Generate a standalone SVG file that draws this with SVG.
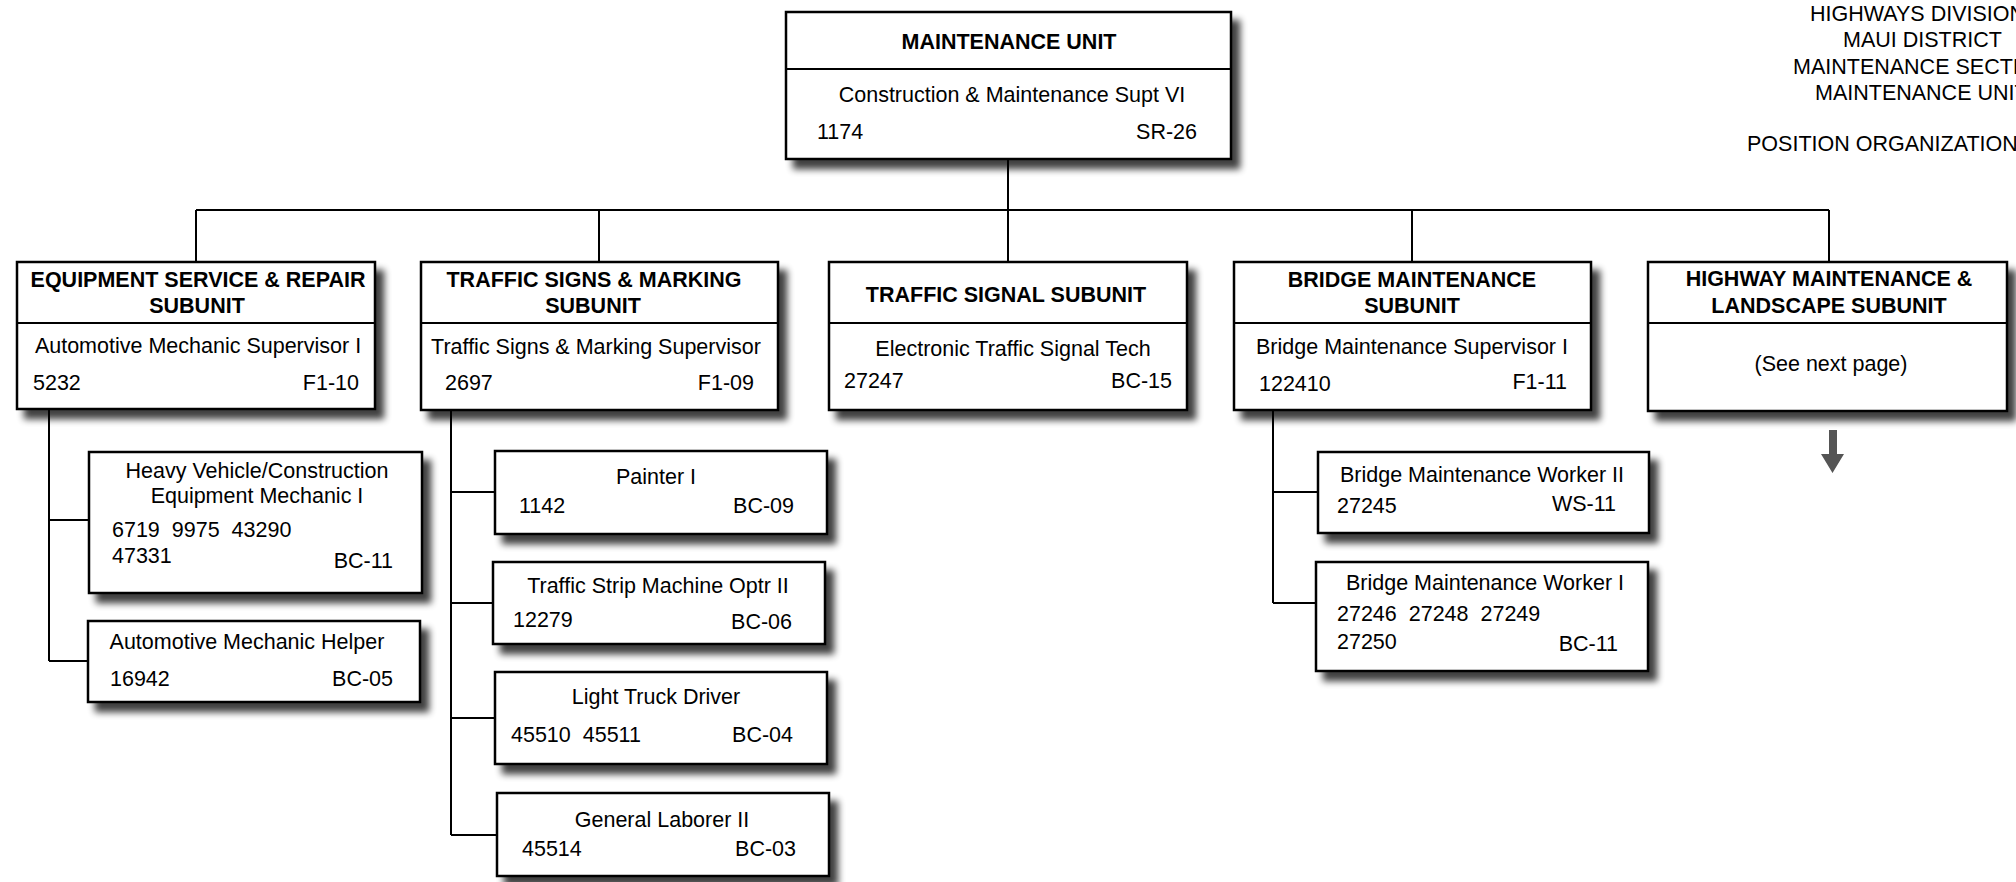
<svg xmlns="http://www.w3.org/2000/svg" width="2016" height="882" viewBox="0 0 2016 882">
<defs>
<filter id="sh" x="-10%" y="-20%" width="130%" height="150%">
<feGaussianBlur in="SourceAlpha" stdDeviation="3.5"/>
<feOffset dx="8" dy="9" result="b"/>
<feComponentTransfer><feFuncA type="linear" slope="0.75"/></feComponentTransfer>
<feMerge><feMergeNode/><feMergeNode in="SourceGraphic"/></feMerge>
</filter>
</defs>
<style>
text{font-family:"Liberation Sans",Arial,sans-serif;font-size:21.5px;fill:#000}
.b{font-weight:bold}
.m{text-anchor:middle}
.e{text-anchor:end}
.box{fill:#fff;stroke:#000;stroke-width:2.5;filter:url(#sh)}
.div{stroke:#000;stroke-width:2}
.con{fill:none;stroke:#000;stroke-width:2}
</style>
<rect width="2016" height="882" fill="#fff"/>

<g id="header">
<text x="1810" y="21">HIGHWAYS DIVISION</text>
<text x="1843" y="47">MAUI DISTRICT</text>
<text x="1793" y="74">MAINTENANCE SECTI</text>
<text x="1815" y="100">MAINTENANCE UNIT</text>
<text x="1747" y="151">POSITION ORGANIZATION</text>
</g>

<g id="connectors" class="con">
<path d="M1008 159V210M196 210H1829M196 210V262M599 210V262M1008 210V262M1412 210V262M1829 210V262"/>
<path d="M49 409V661M49 520H89M49 661H88"/>
<path d="M451 410V835M451 492H495M451 603H493M451 718H495M451 835H497"/>
<path d="M1273 410V603M1273 492H1318M1273 603H1316"/>
</g>

<g id="maintenance-unit">
<rect class="box" x="786" y="12" width="445" height="147"/>
<line class="div" x1="786" y1="69" x2="1231" y2="69"/>
<text class="b m" x="1009" y="49">MAINTENANCE UNIT</text>
<text class="m" x="1012" y="102">Construction &amp; Maintenance Supt VI</text>
<text x="817" y="139">1174</text>
<text class="e" x="1197" y="139">SR-26</text>
</g>

<g id="equipment-subunit">
<rect class="box" x="17" y="262" width="358" height="147"/>
<line class="div" x1="17" y1="323" x2="375" y2="323"/>
<text class="b m" x="198" y="287">EQUIPMENT SERVICE &amp; REPAIR</text>
<text class="b m" x="197" y="313">SUBUNIT</text>
<text class="m" x="198" y="353">Automotive Mechanic Supervisor I</text>
<text x="33" y="390">5232</text>
<text class="e" x="359" y="390">F1-10</text>
</g>

<g id="traffic-signs-subunit">
<rect class="box" x="421" y="262" width="357" height="148"/>
<line class="div" x1="421" y1="323" x2="778" y2="323"/>
<text class="b m" x="594" y="287">TRAFFIC SIGNS &amp; MARKING</text>
<text class="b m" x="593" y="313">SUBUNIT</text>
<text class="m" x="596" y="354">Traffic Signs &amp; Marking Supervisor</text>
<text x="445" y="390">2697</text>
<text class="e" x="754" y="390">F1-09</text>
</g>

<g id="traffic-signal-subunit">
<rect class="box" x="829" y="262" width="358" height="148"/>
<line class="div" x1="829" y1="323" x2="1187" y2="323"/>
<text class="b m" x="1006" y="302">TRAFFIC SIGNAL SUBUNIT</text>
<text class="m" x="1013" y="356">Electronic Traffic Signal Tech</text>
<text x="844" y="388">27247</text>
<text class="e" x="1172" y="388">BC-15</text>
</g>

<g id="bridge-subunit">
<rect class="box" x="1234" y="262" width="357" height="148"/>
<line class="div" x1="1234" y1="323" x2="1591" y2="323"/>
<text class="b m" x="1412" y="287">BRIDGE MAINTENANCE</text>
<text class="b m" x="1412" y="313">SUBUNIT</text>
<text class="m" x="1412" y="354">Bridge Maintenance Supervisor I</text>
<text x="1259" y="391">122410</text>
<text class="e" x="1567" y="389">F1-11</text>
</g>

<g id="highway-subunit">
<rect class="box" x="1648" y="262" width="359" height="149"/>
<line class="div" x1="1648" y1="323" x2="2007" y2="323"/>
<text class="b m" x="1829" y="286">HIGHWAY MAINTENANCE &amp;</text>
<text class="b m" x="1829" y="313">LANDSCAPE SUBUNIT</text>
<text class="m" x="1831" y="371">(See next page)</text>
<path d="M1829 430h8v24h7l-11.5 19l-11.5-19h8z" fill="#555"/>
</g>

<g id="heavy-vehicle-mechanic">
<rect class="box" x="89" y="452" width="333" height="141"/>
<text class="m" x="257" y="478">Heavy Vehicle/Construction</text>
<text class="m" x="257" y="503">Equipment Mechanic I</text>
<text x="112" y="537" xml:space="preserve">6719  9975  43290</text>
<text x="112" y="563">47331</text>
<text class="e" x="393" y="568">BC-11</text>
</g>

<g id="automotive-mechanic-helper">
<rect class="box" x="88" y="621" width="332" height="81"/>
<text class="m" x="247" y="649">Automotive Mechanic Helper</text>
<text x="110" y="686">16942</text>
<text class="e" x="393" y="686">BC-05</text>
</g>

<g id="painter">
<rect class="box" x="495" y="451" width="332" height="83"/>
<text class="m" x="656" y="484">Painter I</text>
<text x="519" y="513">1142</text>
<text class="e" x="794" y="513">BC-09</text>
</g>

<g id="traffic-strip-operator">
<rect class="box" x="493" y="562" width="332" height="82"/>
<text class="m" x="658" y="593">Traffic Strip Machine Optr II</text>
<text x="513" y="627">12279</text>
<text class="e" x="792" y="629">BC-06</text>
</g>

<g id="light-truck-driver">
<rect class="box" x="495" y="672" width="332" height="92"/>
<text class="m" x="656" y="704">Light Truck Driver</text>
<text x="511" y="742" xml:space="preserve">45510  45511</text>
<text class="e" x="793" y="742">BC-04</text>
</g>

<g id="general-laborer">
<rect class="box" x="497" y="793" width="332" height="83"/>
<text class="m" x="662" y="827">General Laborer II</text>
<text x="522" y="856">45514</text>
<text class="e" x="796" y="856">BC-03</text>
</g>

<g id="bridge-worker-2">
<rect class="box" x="1318" y="452" width="331" height="81"/>
<text class="m" x="1482" y="482">Bridge Maintenance Worker II</text>
<text x="1337" y="513">27245</text>
<text class="e" x="1616" y="511">WS-11</text>
</g>

<g id="bridge-worker-1">
<rect class="box" x="1316" y="562" width="332" height="109"/>
<text class="m" x="1485" y="590">Bridge Maintenance Worker I</text>
<text x="1337" y="621" xml:space="preserve">27246  27248  27249</text>
<text x="1337" y="649">27250</text>
<text class="e" x="1618" y="651">BC-11</text>
</g>
</svg>
